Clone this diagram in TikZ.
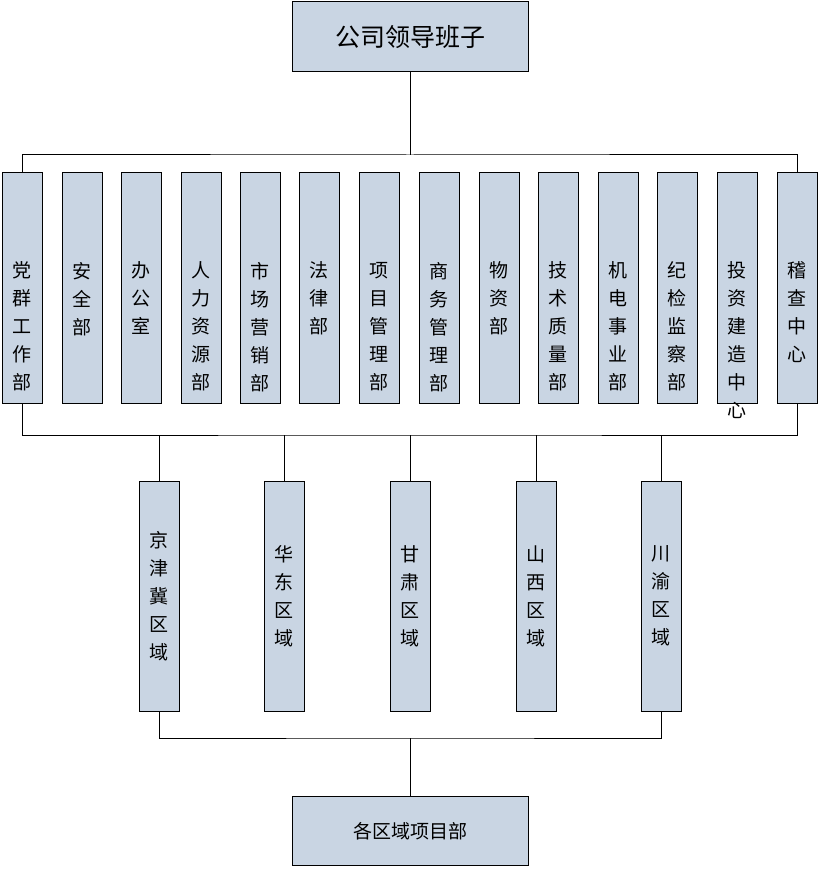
\documentclass[tikz,border=0pt]{standalone}
\usepackage{fontspec}
\setmainfont{Noto Sans CJK SC}
\begin{document}
\begin{tikzpicture}[x=1pt,y=-1pt,
  box/.style={draw=black,line width=1pt,fill={rgb,255:red,201;green,213;blue,227},inner sep=0pt},
  vbox/.style={box,minimum width=40pt,minimum height=230pt,text width=20pt,align=center,font=\fontsize{19pt}{28pt}\selectfont},
  ln/.style={line width=1pt}]
\useasboundingbox (0,0) rectangle (819,869);
\node[box,minimum width=236pt,minimum height=70pt,font=\fontsize{25pt}{28pt}\selectfont] (top) at (410,37) {公司领导班子};
\foreach \i/\x/\t in {1/22/{党\\群\\工\\作\\部},2/82/{安\\全\\部},3/141/{办\\公\\室},4/201/{人\\力\\资\\源\\部},5/260/{市\\场\\营\\销\\部},6/319/{法\\律\\部},7/379/{项\\目\\管\\理\\部},8/439/{商\\务\\管\\理\\部},9/499/{物\\资\\部},10/558/{技\\术\\质\\量\\部},11/618/{机\\电\\事\\业\\部},12/677/{纪\\检\\监\\察\\部},13/737/{投\\资\\建\\造\\中\\心},14/797/{稽\\查\\中\\心}}
  \node[vbox,text depth=36pt] (d\i) at (\x,288) {\t};
\foreach \i/\x/\t in {1/159/{京\\津\\冀\\区\\域},2/284/{华\\东\\区\\域},3/410/{甘\\肃\\区\\域},4/536/{山\\西\\区\\域},5/661/{川\\渝\\区\\域}}
  \node[vbox] (r\i) at (\x,596) {\t};
\node[box,minimum width=236pt,minimum height=69pt,font=\fontsize{19pt}{22pt}\selectfont] (bot) at (410,831) {各区域项目部};
\coordinate (t1) at (410,155);
\draw[ln] (top.south) -- (t1);
\draw[ln] (d1.north) |- (t1) -| (d14.north);
\coordinate (b1) at (410,435);
\draw[ln] (d1.south) |- (b1) -| (d14.south);
\foreach \i in {1,...,5} \draw[ln] (r\i.north) -- (r\i.north |- b1);
\coordinate (c1) at (410,738);
\draw[ln] (r1.south) |- (c1) -| (r5.south);
\draw[ln] (c1) -- (bot.north);
\end{tikzpicture}
\end{document}
